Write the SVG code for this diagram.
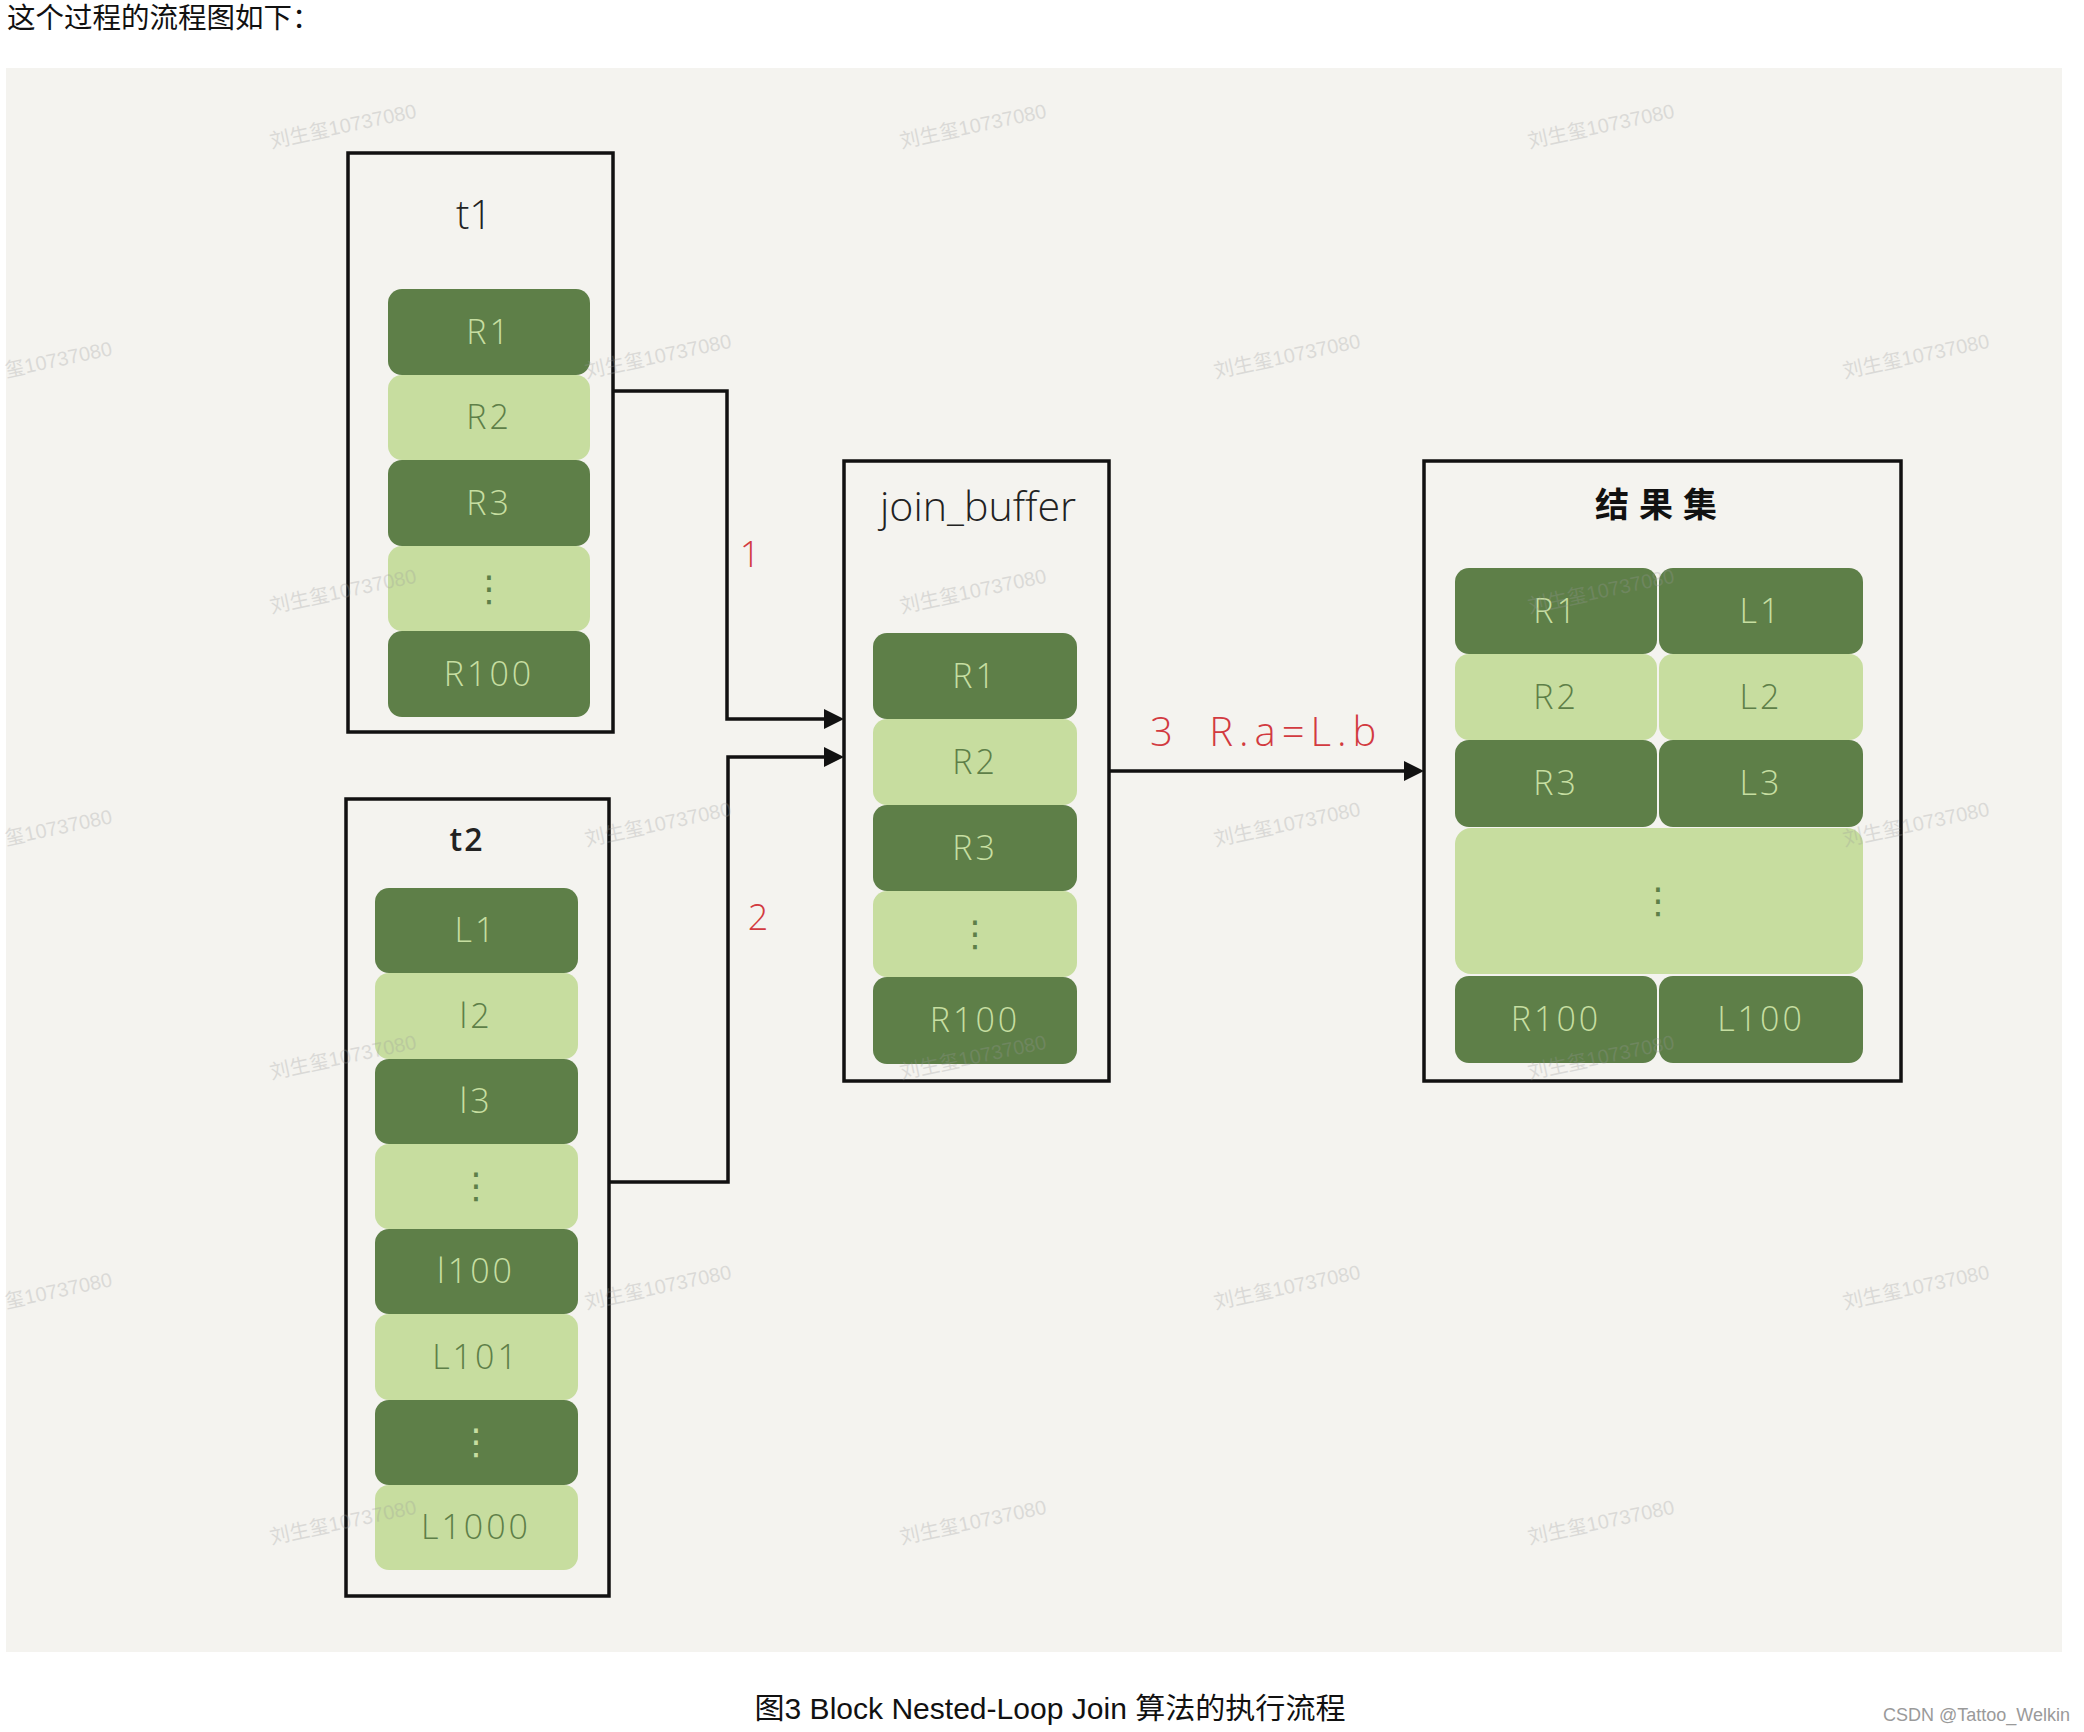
<svg xmlns="http://www.w3.org/2000/svg" width="2084" height="1732" viewBox="0 0 2084 1732">
<style>
.dk{fill:#5e7f48}
.lt{fill:#c7dd9f}
.box{fill:none;stroke:#111;stroke-width:3.5}
.lbl{font-family:"Open Sans","DejaVu Sans",sans-serif;font-weight:300;font-size:34px;text-anchor:middle;letter-spacing:3px}
.on-dk{fill:#c6dea1}
.on-lt{fill:#5e7f48}
.dots{font-family:"DejaVu Sans",sans-serif;font-size:36px;text-anchor:middle}
.conn{fill:none;stroke:#111;stroke-width:3.5}
.red{font-family:"Open Sans","DejaVu Sans",sans-serif;font-weight:300;fill:#d23a40}
.wm{font-family:"Liberation Sans","Noto Sans CJK SC",sans-serif;font-size:20px;fill:#9a9a9a;opacity:.28;text-anchor:middle}
.wml{font-family:"Liberation Sans","Noto Sans CJK SC",sans-serif;font-size:20px;fill:#9a9a9a;opacity:.28}
</style>
<defs>
<marker id="arr" markerUnits="userSpaceOnUse" markerWidth="20" markerHeight="20" refX="10" refY="10" orient="auto">
<path d="M0,0 L20,10 L0,20 z" fill="#111"/>
</marker>
</defs>
<rect width="2084" height="1732" fill="#ffffff"/>
<text x="7" y="28" font-family="Liberation Sans,Noto Sans CJK SC,sans-serif" font-size="28.5" fill="#111">这个过程的流程图如下：</text>
<rect x="6" y="68" width="2056" height="1584" fill="#f4f3ef"/>

<g id="t1">
<rect class="box" x="348" y="153" width="265" height="579"/>
<text x="474" y="229" font-family="Open Sans,DejaVu Sans,sans-serif" font-weight="300" font-size="40" text-anchor="middle" fill="#222">t1</text>
<g id="t1-R1"><rect class="dk" x="388" y="289" width="202" height="86" rx="14"/><text class="lbl on-dk" x="489" y="344">R1</text></g>
<g id="t1-R2"><rect class="lt" x="388" y="375" width="202" height="85" rx="14"/><text class="lbl on-lt" x="489" y="429">R2</text></g>
<g id="t1-R3"><rect class="dk" x="388" y="460" width="202" height="86" rx="14"/><text class="lbl on-dk" x="489" y="515">R3</text></g>
<g id="t1-dots"><rect class="lt" x="388" y="546" width="202" height="85" rx="14"/><text class="dots on-lt" x="489" y="601">⋮</text></g>
<g id="t1-R100"><rect class="dk" x="388" y="631" width="202" height="86" rx="14"/><text class="lbl on-dk" x="489" y="686">R100</text></g>
</g>

<g id="t2">
<rect class="box" x="346" y="799" width="263" height="797"/>
<text x="467" y="851" font-family="Open Sans,DejaVu Sans,sans-serif" font-weight="600" font-size="32" letter-spacing="2" text-anchor="middle" fill="#222">t2</text>
<g id="t2-L1"><rect class="dk" x="375" y="888" width="203" height="85" rx="14"/><text class="lbl on-dk" x="476" y="942">L1</text></g>
<g id="t2-l2"><rect class="lt" x="375" y="973" width="203" height="86" rx="14"/><text class="lbl on-lt" x="476" y="1028">l2</text></g>
<g id="t2-l3"><rect class="dk" x="375" y="1059" width="203" height="85" rx="14"/><text class="lbl on-dk" x="476" y="1113">l3</text></g>
<g id="t2-dots1"><rect class="lt" x="375" y="1144" width="203" height="85" rx="14"/><text class="dots on-lt" x="476" y="1198">⋮</text></g>
<g id="t2-l100"><rect class="dk" x="375" y="1229" width="203" height="85" rx="14"/><text class="lbl on-dk" x="476" y="1283">l100</text></g>
<g id="t2-L101"><rect class="lt" x="375" y="1314" width="203" height="86" rx="14"/><text class="lbl on-lt" x="476" y="1369">L101</text></g>
<g id="t2-dots2"><rect class="dk" x="375" y="1400" width="203" height="85" rx="14"/><text class="dots on-dk" x="476" y="1454">⋮</text></g>
<g id="t2-L1000"><rect class="lt" x="375" y="1485" width="203" height="85" rx="14"/><text class="lbl on-lt" x="476" y="1539">L1000</text></g>
</g>

<g id="join_buffer">
<rect class="box" x="844" y="461" width="265" height="620"/>
<text x="978" y="521" font-family="Open Sans,DejaVu Sans,sans-serif" font-weight="300" font-size="40" text-anchor="middle" textLength="196" lengthAdjust="spacingAndGlyphs" fill="#222">join_buffer</text>
<g id="jb-R1"><rect class="dk" x="873" y="633" width="204" height="86" rx="14"/><text class="lbl on-dk" x="975" y="688">R1</text></g>
<g id="jb-R2"><rect class="lt" x="873" y="719" width="204" height="86" rx="14"/><text class="lbl on-lt" x="975" y="774">R2</text></g>
<g id="jb-R3"><rect class="dk" x="873" y="805" width="204" height="86" rx="14"/><text class="lbl on-dk" x="975" y="860">R3</text></g>
<g id="jb-dots"><rect class="lt" x="873" y="891" width="204" height="86" rx="14"/><text class="dots on-lt" x="975" y="946">⋮</text></g>
<g id="jb-R100"><rect class="dk" x="873" y="977" width="204" height="87" rx="14"/><text class="lbl on-dk" x="975" y="1032">R100</text></g>
</g>

<g id="result">
<rect class="box" x="1424" y="461" width="477" height="620"/>
<text x="1661" y="517" font-family="Noto Sans CJK SC,sans-serif" font-weight="700" font-size="34" letter-spacing="10" text-anchor="middle" fill="#111">结果集</text>
<g id="rs-row1"><rect class="dk" x="1455" y="568" width="202" height="86" rx="14"/><rect class="dk" x="1659" y="568" width="204" height="86" rx="14"/><text class="lbl on-dk" x="1556" y="623">R1</text><text class="lbl on-dk" x="1761" y="623">L1</text></g>
<g id="rs-row2"><rect class="lt" x="1455" y="654" width="202" height="86" rx="14"/><rect class="lt" x="1659" y="654" width="204" height="86" rx="14"/><text class="lbl on-lt" x="1556" y="709">R2</text><text class="lbl on-lt" x="1761" y="709">L2</text></g>
<g id="rs-row3"><rect class="dk" x="1455" y="740" width="202" height="87" rx="14"/><rect class="dk" x="1659" y="740" width="204" height="87" rx="14"/><text class="lbl on-dk" x="1556" y="795">R3</text><text class="lbl on-dk" x="1761" y="795">L3</text></g>
<g id="rs-dots"><rect class="lt" x="1455" y="828" width="408" height="146" rx="16"/><text class="dots on-lt" x="1658" y="913">⋮</text></g>
<g id="rs-row100"><rect class="dk" x="1455" y="976" width="202" height="87" rx="14"/><rect class="dk" x="1659" y="976" width="204" height="87" rx="14"/><text class="lbl on-dk" x="1556" y="1031">R100</text><text class="lbl on-dk" x="1761" y="1031">L100</text></g>
</g>

<g id="connectors">
<path class="conn" d="M613 391 H727 V719 H834" marker-end="url(#arr)"/>
<path class="conn" d="M609 1182 H728 V757 H834" marker-end="url(#arr)"/>
<path class="conn" d="M1109 771 H1414" marker-end="url(#arr)"/>
<text class="red" x="750" y="567" font-size="36" text-anchor="middle">1</text>
<text class="red" x="758" y="930" font-size="36" text-anchor="middle">2</text>
<text class="red" x="1150" y="746" font-size="40" letter-spacing="6" word-spacing="14">3 R.a=L.b</text>
</g>

<g id="watermarks">
<text class="wm" x="343" y="133" transform="rotate(-12 343 126)">刘生玺10737080</text>
<text class="wm" x="973" y="133" transform="rotate(-12 973 126)">刘生玺10737080</text>
<text class="wm" x="1601" y="133" transform="rotate(-12 1601 126)">刘生玺10737080</text>
<text class="wml" x="3" y="368" transform="rotate(-12 50 356)">玺10737080</text>
<text class="wm" x="658" y="363" transform="rotate(-12 658 356)">刘生玺10737080</text>
<text class="wm" x="1287" y="363" transform="rotate(-12 1287 356)">刘生玺10737080</text>
<text class="wm" x="1916" y="363" transform="rotate(-12 1916 356)">刘生玺10737080</text>
<text class="wm" x="343" y="598" transform="rotate(-12 343 591)">刘生玺10737080</text>
<text class="wm" x="973" y="598" transform="rotate(-12 973 591)">刘生玺10737080</text>
<text class="wm" x="1601" y="598" transform="rotate(-12 1601 591)">刘生玺10737080</text>
<text class="wml" x="3" y="836" transform="rotate(-12 50 824)">玺10737080</text>
<text class="wm" x="658" y="831" transform="rotate(-12 658 824)">刘生玺10737080</text>
<text class="wm" x="1287" y="831" transform="rotate(-12 1287 824)">刘生玺10737080</text>
<text class="wm" x="1916" y="831" transform="rotate(-12 1916 824)">刘生玺10737080</text>
<text class="wm" x="343" y="1064" transform="rotate(-12 343 1057)">刘生玺10737080</text>
<text class="wm" x="973" y="1064" transform="rotate(-12 973 1057)">刘生玺10737080</text>
<text class="wm" x="1601" y="1064" transform="rotate(-12 1601 1057)">刘生玺10737080</text>
<text class="wml" x="3" y="1299" transform="rotate(-12 50 1287)">玺10737080</text>
<text class="wm" x="658" y="1294" transform="rotate(-12 658 1287)">刘生玺10737080</text>
<text class="wm" x="1287" y="1294" transform="rotate(-12 1287 1287)">刘生玺10737080</text>
<text class="wm" x="1916" y="1294" transform="rotate(-12 1916 1287)">刘生玺10737080</text>
<text class="wm" x="343" y="1529" transform="rotate(-12 343 1522)">刘生玺10737080</text>
<text class="wm" x="973" y="1529" transform="rotate(-12 973 1522)">刘生玺10737080</text>
<text class="wm" x="1601" y="1529" transform="rotate(-12 1601 1522)">刘生玺10737080</text>
</g>

<text x="1050" y="1719" font-family="Liberation Sans,Noto Sans CJK SC,sans-serif" font-size="29" text-anchor="middle" textLength="591" lengthAdjust="spacingAndGlyphs" fill="#111">图3 Block Nested-Loop Join 算法的执行流程</text>
<text x="2070" y="1721" font-family="Liberation Sans,Noto Sans CJK SC,sans-serif" font-size="18" text-anchor="end" fill="#9a9a9a">CSDN @Tattoo_Welkin</text>
</svg>
